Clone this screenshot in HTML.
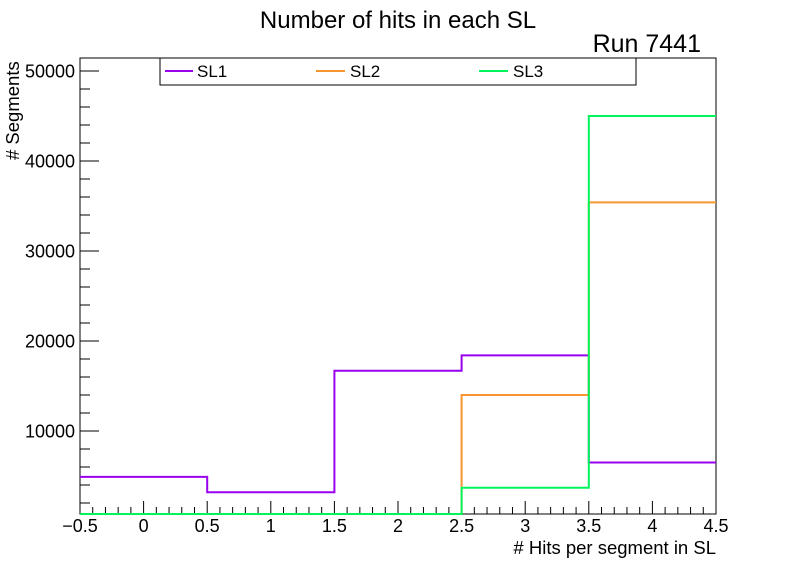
<!DOCTYPE html>
<html><head><meta charset="utf-8">
<style>
body{margin:0;background:#fff;}
svg{display:block;font-family:"Liberation Sans",sans-serif;}
</style></head>
<body>
<svg id="chart" width="796" height="572" viewBox="0 0 796 572">
<rect x="0" y="0" width="796" height="572" fill="#fff"/>
<text x="398" y="28" font-size="24" text-anchor="middle">Number of hits in each SL</text>
<text x="701" y="52" font-size="25" text-anchor="end">Run 7441</text>
<g id="axes"></g>
<rect x="80" y="58" width="636" height="456" fill="none" stroke="#000" stroke-width="1"/>
<g id="series"></g>
<g>
<rect x="160" y="58" width="476" height="27" fill="#fff" stroke="#000"/>
<g><line x1="165" y1="71" x2="193" y2="71" stroke="#9900ee" stroke-width="2"/><text x="197" y="77" font-size="17">SL1</text></g>
<g><line x1="316" y1="71" x2="345" y2="71" stroke="#f7962e" stroke-width="2"/><text x="350" y="77" font-size="17">SL2</text></g>
<g><line x1="479" y1="71" x2="508" y2="71" stroke="#00f55a" stroke-width="2"/><text x="513" y="77" font-size="17">SL3</text></g>
</g>
<text x="716" y="554" font-size="18.5" text-anchor="end"># Hits per segment in SL</text>
<text transform="translate(19,160) rotate(-90)" font-size="18.5" text-anchor="start"># Segments</text>
</svg>
<script>
const binEdges = [-0.5, 0.5, 1.5, 2.5, 3.5, 4.5];
const sl1 = [4900, 3200, 16700, 18400, 6500];
const sl2 = [0, 0, 0, 14000, 35400];
const sl3 = [0, 0, 0, 3700, 45000];
const xTicks = [-0.5, 0, 0.5, 1, 1.5, 2, 2.5, 3, 3.5, 4, 4.5];
const xTickLabels = ["\u22120.5", "0", "0.5", "1", "1.5", "2", "2.5", "3", "3.5", "4", "4.5"];
const yTicks = [10000, 20000, 30000, 40000, 50000];
const yTickLabels = ["10000", "20000", "30000", "40000", "50000"];

const X0 = 80, X1 = 716, XMIN = -0.5, XMAX = 4.5;
const YB = 514, YT = 58, YMIN = 778, YMAX = 51444;
const NS = "http://www.w3.org/2000/svg";
function xs(v){return X0 + (v - XMIN) / (XMAX - XMIN) * (X1 - X0);}
function ys(v){const c = Math.max(YMIN, Math.min(YMAX, v)); return YB - (c - YMIN) / (YMAX - YMIN) * (YB - YT);}
function mk(tag, attrs, parent){const e = document.createElementNS(NS, tag); for (const k in attrs) e.setAttribute(k, attrs[k]); parent.appendChild(e); return e;}

const axes = document.getElementById('axes');
for (let v = XMIN; v <= XMAX + 1e-9; v += 0.1) {
  const isMajor = Math.abs(Math.round(v * 2) - v * 2) < 1e-6;
  const t = mk('line', {x1: xs(v), x2: xs(v), y1: YB, y2: YB - (isMajor ? 13 : 7), stroke: '#000'}, axes);
  
  
}
xTicks.forEach((v, i) => {
  const t = mk('text', {x: xs(v), y: 532, 'font-size': 18, 'text-anchor': 'middle'}, axes);
  t.textContent = xTickLabels[i];
  
  
});
for (let v = 2000; v <= YMAX; v += 2000) {
  const isMajor = v % 10000 === 0;
  if (v < YMIN) continue;
  const t = mk('line', {x1: X0, x2: X0 + (isMajor ? 19 : 10), y1: ys(v), y2: ys(v), stroke: '#000'}, axes);
  
  
}
yTicks.forEach((v, i) => {
  const t = mk('text', {x: 75, y: ys(v) + 6.5, 'font-size': 18, 'text-anchor': 'end'}, axes);
  t.textContent = yTickLabels[i];
  
  
});

const series = document.getElementById('series');
function drawHist(vals, color, name){
  let d = '';
  vals.forEach((v, i) => {
    const xa = xs(binEdges[i]), xb = xs(binEdges[i + 1]), y = ys(v);
    d += (i === 0 ? 'M' : 'L') + xa + ',' + y + ' L' + xb + ',' + y + ' ';
  });
  const p = mk('path', {d: d, fill: 'none', stroke: color, 'stroke-width': 2}, series);
  
  
}
drawHist(sl1, '#9900ee', 'series-sl1');
drawHist(sl2, '#f7962e', 'series-sl2');
drawHist(sl3, '#00f55a', 'series-sl3');
</script>
</body></html>
